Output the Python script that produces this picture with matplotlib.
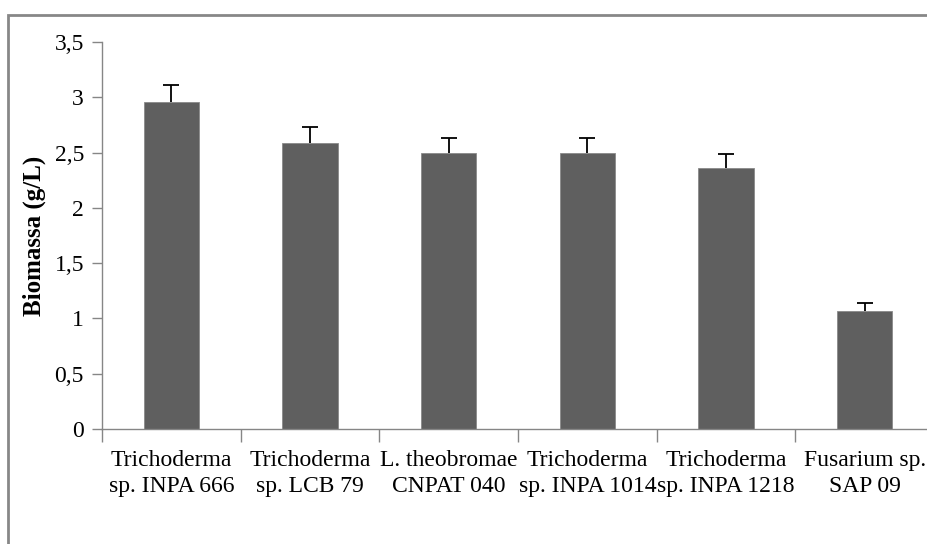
import matplotlib
matplotlib.use("Agg")
import matplotlib.pyplot as plt
from matplotlib.patches import Rectangle
import numpy as np

# Fungal isolates and measured biomass
categories = [
    "Trichoderma\nsp. INPA 666",
    "Trichoderma\nsp. LCB 79",
    "L. theobromae\nCNPAT 040",
    "Trichoderma\nsp. INPA 1014",
    "Trichoderma\nsp. INPA 1218",
    "Fusarium sp.\nSAP 09",
]
biomass = [2.96, 2.59, 2.50, 2.50, 2.36, 1.07]
biomass_err = [0.15, 0.14, 0.13, 0.13, 0.13, 0.07]

y_ticks = [0, 0.5, 1, 1.5, 2, 2.5, 3, 3.5]
y_tick_labels = ["0", "0,5", "1", "1,5", "2", "2,5", "3", "3,5"]

plt.rcParams["font.family"] = ["Liberation Serif", "DejaVu Serif"]

W, H = 928, 544
fig = plt.figure(figsize=(W / 100, H / 100), dpi=100)
ax = fig.add_axes([102 / W, (H - 429) / H, 832 / W, 387 / H])

axis_grey = "#868686"
x = np.arange(len(categories))
ax.bar(x, biomass, width=0.4, color="#5f5f5f", edgecolor="#8a8a8a",
       linewidth=0.6, zorder=2)
# upper error bars only
_, caps, _ = ax.errorbar(x, biomass,
                         yerr=[np.zeros(len(biomass)), biomass_err],
                         fmt="none", ecolor="black", elinewidth=1.3,
                         capsize=5.5, capthick=1.3, zorder=3)
caps[0].set_visible(False)

ax.set_xlim(-0.5, len(categories) - 0.5)
ax.set_ylim(0, 3.5)

ax.set_yticks(y_ticks)
ax.set_yticklabels(y_tick_labels, fontsize=17)
ax.tick_params(axis="y", direction="out", length=7, width=1,
               color=axis_grey, pad=6)

ax.set_xticks(x)
ax.set_xticklabels(categories, fontsize=17, linespacing=1.33)
ax.set_xticks(np.arange(-0.5, len(categories), 1.0), minor=True)
ax.tick_params(axis="x", which="major", length=0, pad=15)
ax.tick_params(axis="x", which="minor", direction="out", length=9,
               width=1, color=axis_grey)

for side in ("top", "right"):
    ax.spines[side].set_visible(False)
for side in ("left", "bottom"):
    ax.spines[side].set_color(axis_grey)
    ax.spines[side].set_linewidth(1)

ax.set_ylabel("Biomassa (g/L)", fontsize=18, fontweight="bold", labelpad=6)

# Chart frame around the whole figure
fig.patches.append(Rectangle((7.5 / W, -0.2), 1.5, 1.2 - 14.5 / H,
                             transform=fig.transFigure, fill=False,
                             edgecolor="#878787", linewidth=2,
                             clip_on=False))

fig.savefig("out.png", dpi=100)
